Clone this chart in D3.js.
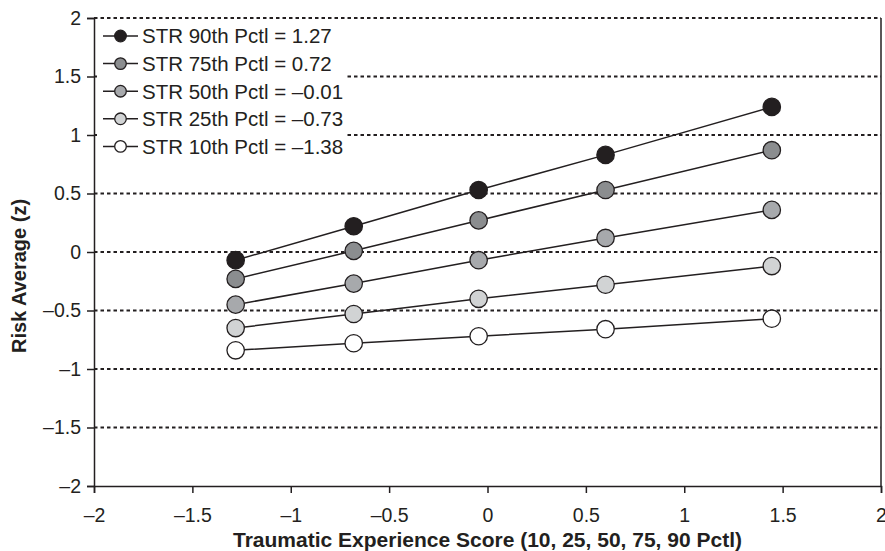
<!DOCTYPE html>
<html><head><meta charset="utf-8">
<script src="https://cdn.jsdelivr.net/npm/d3@7"></script>
<style>
html,body{margin:0;padding:0;background:#fff;}
text{font-family:"Liberation Sans",Arial,Helvetica,sans-serif;fill:#231f20;}
</style></head>
<body><svg id="c" width="885" height="551"></svg>
<script>
// ---- data ----
const xValues = [-1.28, -0.68, -0.045, 0.60, 1.445];
const seriesNames = ["STR 90th Pctl = 1.27","STR 75th Pctl = 0.72","STR 50th Pctl = \u20130.01","STR 25th Pctl = \u20130.73","STR 10th Pctl = \u20131.38"];
const p90 = [-0.07, 0.22, 0.53, 0.83, 1.24];
const p75 = [-0.23, 0.01, 0.27, 0.53, 0.87];
const p50 = [-0.45, -0.27, -0.07, 0.12, 0.36];
const p25 = [-0.65, -0.53, -0.40, -0.28, -0.12];
const p10 = [-0.84, -0.78, -0.72, -0.66, -0.57];
const seriesFill = ["#231f20", "#8b8d8f", "#a7a9ac", "#d1d3d4", "#ffffff"];
const xTicks = [-2, -1.5, -1, -0.5, 0, 0.5, 1, 1.5, 2];
const yTicks = [2, 1.5, 1, 0.5, 0, -0.5, -1, -1.5, -2];
const gridValues = [2, 1.5, 1, 0.5, 0, -0.5, -1, -1.5];
const xTitle = "Traumatic Experience Score (10, 25, 50, 75, 90 Pctl)";
const yTitle = "Risk Average (z)";

const series = [p90, p75, p50, p25, p10].map((v, i) => ({name: seriesNames[i], fill: seriesFill[i], values: v}));
const fmt = d => (d < 0 ? "\u2013" : "") + String(Math.abs(d));

const svg = d3.select("#c");
const L = 94, R = 881, T = 18, B = 486;
const x = d3.scaleLinear().domain([-2, 2]).range([L, R]);
const y = d3.scaleLinear().domain([-2, 2]).range([B, T]);
const ink = "#231f20";

// gridlines
svg.append("g").selectAll("line").data(gridValues).join("line")
  .attr("x1", L).attr("x2", R).attr("y1", d => y(d)).attr("y2", d => y(d))
  .attr("stroke", ink).attr("stroke-width", 2).attr("stroke-dasharray", "3.5,3");

// right border
svg.append("line").attr("x1", R).attr("x2", R).attr("y1", T).attr("y2", B)
  .attr("stroke", ink).attr("stroke-width", 1.5);

// axes
const xAxis = d3.axisBottom(x).tickValues(xTicks).tickFormat(fmt).tickSize(7).tickPadding(15);
const yAxis = d3.axisLeft(y).tickValues(yTicks).tickFormat(fmt).tickSize(7).tickPadding(6);
const gx = svg.append("g").attr("transform", `translate(0,${B})`).call(xAxis);
const gy = svg.append("g").attr("transform", `translate(${L},0)`).call(yAxis);
[gx, gy].forEach(g => {
  g.select(".domain").attr("stroke", ink).attr("stroke-width", 1.5);
  g.selectAll(".tick line").attr("stroke", ink).attr("stroke-width", 1.5);
  g.selectAll(".tick text").style("font-size", "19.5px").attr("fill", ink)
    .style("font-family", "'Liberation Sans',Arial,sans-serif");
});

// legend background
const legY0 = 36, legStep = 27.6;
svg.append("rect").attr("x", 97).attr("y", 22).attr("width", 250).attr("height", 140).attr("fill", "#fff");

// series
const line = d3.line().x((d, i) => x(xValues[i])).y(d => y(d));
const sg = svg.append("g");
series.forEach(s => {
  sg.append("path").attr("d", line(s.values)).attr("fill", "none").attr("stroke", ink).attr("stroke-width", 1.5);
});
series.forEach(s => {
  sg.append("g").selectAll("circle").data(s.values).join("circle")
    .attr("cx", (d, i) => x(xValues[i])).attr("cy", d => y(d)).attr("r", 8.7)
    .attr("fill", s.fill).attr("stroke", ink).attr("stroke-width", 1.3);
});

// legend
const lg = svg.append("g");
series.forEach((s, i) => {
  const cy = legY0 + i * legStep;
  lg.append("line").attr("x1", 103).attr("x2", 138).attr("y1", cy).attr("y2", cy).attr("stroke", ink).attr("stroke-width", 1.5);
  lg.append("circle").attr("cx", 120.5).attr("cy", cy).attr("r", 5.8).attr("fill", s.fill).attr("stroke", ink).attr("stroke-width", 1.3);
  lg.append("text").attr("x", 142).attr("y", cy).attr("dy", "0.36em").style("font-size", "20.5px").text(s.name);
});

// titles
svg.append("text").attr("x", (L + R) / 2).attr("y", 547).attr("text-anchor", "middle")
  .style("font-size", "21px").style("font-weight", "bold").text(xTitle);
svg.append("text").attr("transform", `translate(26,276) rotate(-90)`).attr("text-anchor", "middle")
  .style("font-size", "20px").style("font-weight", "bold").text(yTitle);
</script></body></html>
